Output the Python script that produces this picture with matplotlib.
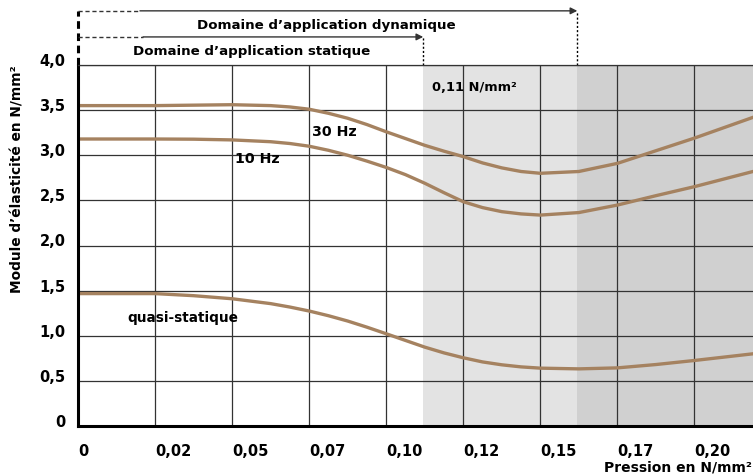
import matplotlib.pyplot as plt

# pression (N/mm²) et module d'élasticité (N/mm²)
pression = [0, 0.025, 0.0375, 0.05, 0.0625, 0.06875, 0.075, 0.08125, 0.0875,
            0.09375, 0.1, 0.10625, 0.1125, 0.11875, 0.125, 0.13125, 0.1375,
            0.14375, 0.15, 0.1625, 0.175, 0.1875, 0.20, 0.219]
module_30hz = [3.55, 3.55, 3.555, 3.56, 3.55, 3.535, 3.51, 3.465, 3.41,
               3.34, 3.26, 3.185, 3.11, 3.045, 2.985, 2.915, 2.86,
               2.82, 2.80, 2.82, 2.91, 3.05, 3.19, 3.42]
module_10hz = [3.18, 3.18, 3.178, 3.17, 3.15, 3.13, 3.10, 3.055, 3.00,
               2.935, 2.865, 2.785, 2.69, 2.585, 2.485, 2.42, 2.375,
               2.35, 2.337, 2.365, 2.448, 2.552, 2.652, 2.82]
module_quasi = [1.467, 1.467, 1.444, 1.41, 1.356, 1.318, 1.274, 1.222, 1.163,
                1.095, 1.022, 0.948, 0.874, 0.81, 0.756, 0.71, 0.678,
                0.655, 0.641, 0.633, 0.644, 0.681, 0.726, 0.80]

xticks = [0, 0.025, 0.05, 0.075, 0.10, 0.125, 0.15, 0.175, 0.20]
xlabels = ["0", "0,02", "0,05", "0,07", "0,10", "0,12", "0,15", "0,17", "0,20"]
yticks = [0, 0.5, 1.0, 1.5, 2.0, 2.5, 3.0, 3.5, 4.0]
ylabels = ["0", "0,5", "1,0", "1,5", "2,0", "2,5", "3,0", "3,5", "4,0"]

limite_statique = 0.112
limite_dynamique = 0.162
xmax = 0.219

brun = "#a58260"
trait = "#333333"

fig = plt.figure(figsize=(7.53, 4.77), dpi=100)
ax = fig.add_axes([78 / 753, 50 / 477, 1 - 78 / 753, 361 / 477])

ax.axvspan(limite_statique, limite_dynamique, color="#e3e3e3", lw=0)
ax.axvspan(limite_dynamique, xmax, color="#d0d0d0", lw=0)

for serie in (module_30hz, module_10hz, module_quasi):
    ax.plot(pression, serie, color=brun, lw=2.4, solid_joinstyle="round")

ax.set_xlim(0, xmax)
ax.set_ylim(0, 4.0)
ax.set_xticks(xticks)
ax.set_xticklabels(xlabels, ha="left", fontsize=10.5, fontweight="bold")
ax.set_yticks(yticks)
ax.set_yticklabels(ylabels, va="baseline", fontsize=10.5, fontweight="bold")
ax.tick_params(axis="both", length=0)
ax.tick_params(axis="x", pad=12)
ax.tick_params(axis="y", pad=9)
ax.grid(True, color=trait, lw=0.9)

ax.spines["right"].set_visible(False)
ax.spines["top"].set_color(trait)
ax.spines["top"].set_linewidth(0.9)
ax.spines["left"].set_linewidth(2.2)
ax.spines["bottom"].set_linewidth(2.2)

# étiquettes des courbes
ax.text(0.076, 3.27, "30 Hz", fontsize=10.3, fontweight="bold", va="center")
ax.text(0.051, 2.97, "10 Hz", fontsize=10.3, fontweight="bold", va="center")
ax.text(0.016, 1.21, "quasi-statique", fontsize=9.8, fontweight="bold", va="center")
ax.text(0.115, 3.76, "0,11 N/mm²", fontsize=9.4, fontweight="bold", va="center")

# domaines d'application au-dessus du graphique
ax.plot([0, 0], [4.0, 4.6], color="black", lw=2.2, ls=(0, (2.5, 1.5)), clip_on=False)
for fin, y, debut_plein, texte, xt in [
        (limite_dynamique, 4.6, 0.0201, "Domaine d’application dynamique", 0.0805),
        (limite_statique, 4.311, 0.0211, "Domaine d’application statique", 0.0562)]:
    ax.plot([0, debut_plein], [y, y], color=trait, lw=1.0, ls=(0, (3, 2)), clip_on=False)
    ax.annotate("", xy=(fin, y), xytext=(debut_plein, y), annotation_clip=False,
                arrowprops=dict(arrowstyle="-|>", color=trait, lw=1.0,
                                mutation_scale=10, shrinkA=0, shrinkB=0))
    ax.plot([fin, fin], [4.0, y], color="black", lw=1.0, ls=(0, (1.5, 1.5)), clip_on=False)
    ax.text(xt, y - 0.155, texte, ha="center", va="center",
            fontsize=9.6, fontweight="bold", clip_on=False)

fig.text(18 / 753, 1 - 179 / 477, "Module d’élasticité en N/mm²", rotation=90,
         ha="center", va="center", fontsize=9.9, fontweight="bold")
fig.text(0.998, 1 - 468 / 477, "Pression en N/mm²", ha="right", va="center",
         fontsize=10, fontweight="bold")

fig.savefig("out.png", dpi=100)
